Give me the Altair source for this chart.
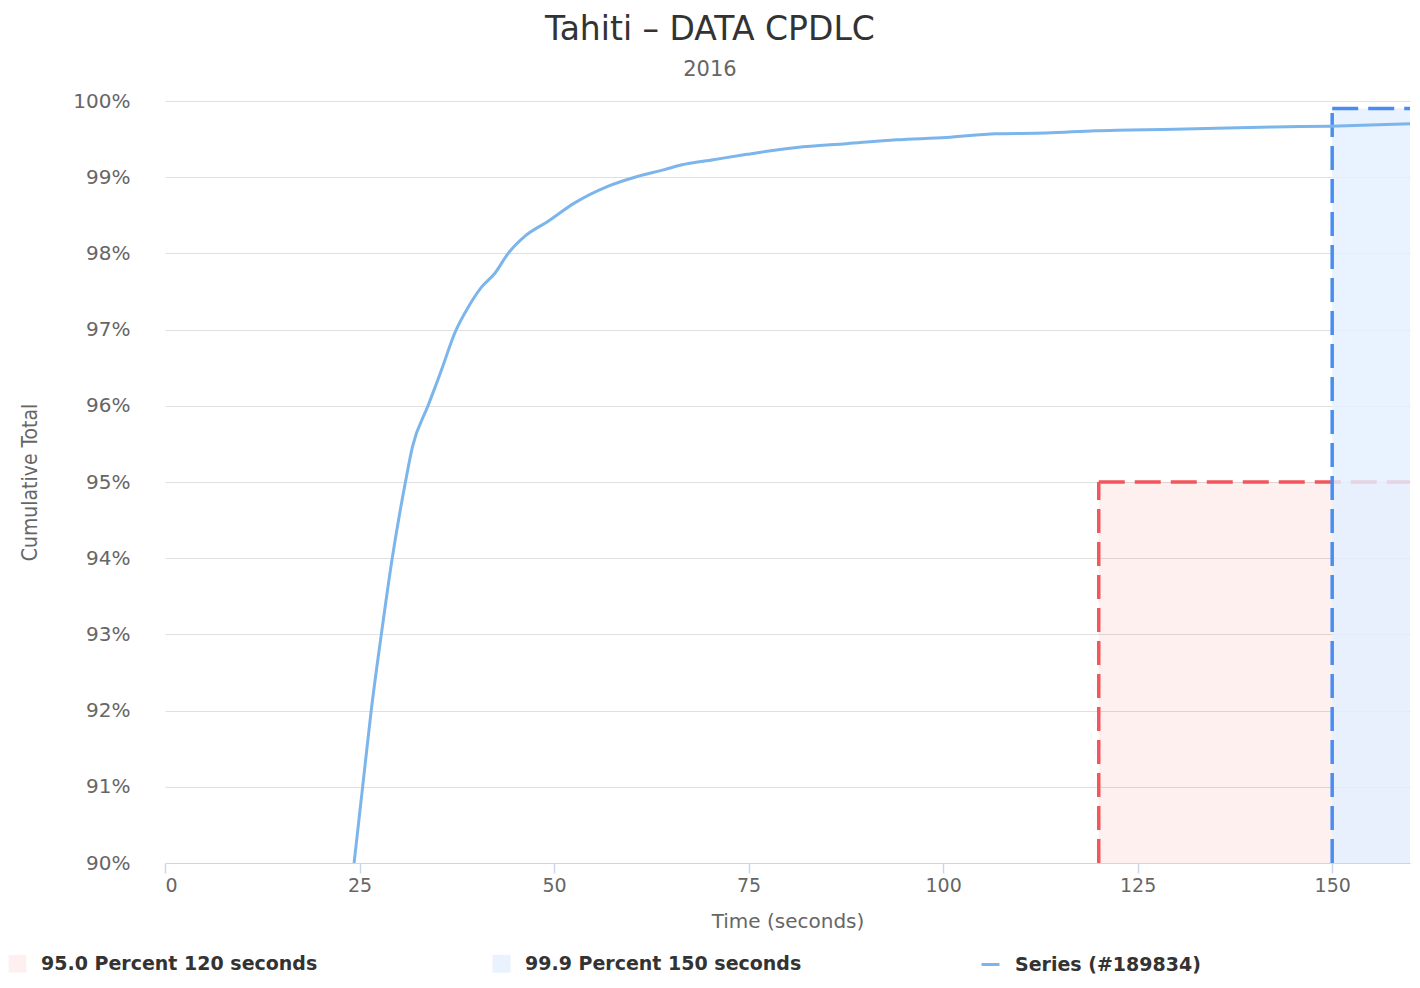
import altair as alt
import pandas as pd

# --- data ---
time_s = [24.3, 25.4, 26.5, 27.8, 29.2, 30.9, 31.8, 33.8, 35.1, 35.6, 37.3, 39.0, 40.7, 42.4,
          44.1, 46.3, 49.2, 52.6, 56.9, 60.7, 64.2, 66.3, 70.5, 74.8, 81.2, 87.6, 94.0,
          100.4, 106.8, 113.2, 119.6, 129.8, 142.6, 149.8, 160.0]
cum_pct = [90.0, 91.0, 92.0, 93.0, 94.0, 95.0, 95.46, 96.0, 96.35, 96.49, 96.97, 97.30, 97.56, 97.74,
           98.0, 98.23, 98.42, 98.66, 98.88, 99.01, 99.10, 99.16, 99.23, 99.30, 99.39, 99.44, 99.49,
           99.52, 99.57, 99.58, 99.61, 99.63, 99.66, 99.67, 99.70]
series_name = "Series (#189834)"

thr_labels = ["95.0 Percent 120 seconds", "99.9 Percent 150 seconds"]
thr_pct = [95.0, 99.9]
thr_sec = [120, 150]

x_ticks = [0, 25, 50, 75, 100, 125, 150]
y_ticks = [90, 91, 92, 93, 94, 95, 96, 97, 98, 99, 100]
x_min, x_max = 0, 160
y_min, y_max = 90, 100

fill_range = ["rgba(255,0,0,0.06)", "rgba(228,239,255,0.82)"]
line_color = "#7cb5ec"
rule_colors = ["#f2555b", "#4a8df2"]

FONT = "DejaVu Sans"

series_df = pd.DataFrame({"time": time_s, "cum": cum_pct, "name": series_name})
thr_df = pd.DataFrame({"label": thr_labels, "pct": thr_pct, "sec": thr_sec,
                       "xend": [x_max] * len(thr_sec), "ybase": [y_min] * len(thr_sec)})

xscale = alt.Scale(domain=[x_min, x_max], nice=False, zero=False)
yscale = alt.Scale(domain=[y_min, y_max], nice=False, zero=False)

fill_scale = alt.Scale(domain=thr_labels, range=fill_range)
stroke_scale = alt.Scale(domain=[series_name], range=[line_color])

legend_common = dict(
    title=None, orient="none", direction="horizontal",
    symbolSize=320, labelFontSize=19, labelFont=FONT, labelFontWeight="bold",
    labelColor="#333333", labelOffset=14, labelLimit=500,
)
fill_legend = alt.Legend(legendX=-157, legendY=853, columns=2, gridAlign="all",
                         columnPadding=174, symbolType="square", symbolStrokeWidth=0,
                         **legend_common)
stroke_legend = alt.Legend(legendX=815, legendY=853, symbolType="stroke",
                           symbolStrokeWidth=3, **legend_common)

xaxis = alt.Axis(values=x_ticks, title="Time (seconds)", grid=False,
                 domainColor="#ccd6eb", tickColor="#ccd6eb", tickSize=10, tickWidth=1.5,
                 labelFontSize=19, labelColor="#666666", labelFont=FONT, labelPadding=3,
                 titleFontSize=20, titleColor="#666666", titleFont=FONT,
                 titleFontWeight="normal", titlePadding=16)
yaxis = alt.Axis(values=y_ticks, labelExpr="datum.value + '%'", title="Cumulative Total",
                 domain=False, ticks=False, tickSize=0, grid=True, gridColor="#e0e0e0",
                 labelFontSize=20, labelColor="#666666", labelFont=FONT, labelPadding=35,
                 minExtent=103, maxExtent=103,
                 titleFontSize=21, titleColor="#666666",
                 titleFont="'Liberation Sans Narrow', 'DejaVu Sans Condensed', sans-serif",
                 titleFontWeight="normal", titlePadding=22)

base_thr = alt.Chart(thr_df)

def rect_layer(lbl):
    return base_thr.transform_filter(alt.datum.label == lbl).mark_rect().encode(
        x=alt.X("sec:Q", scale=xscale, axis=xaxis),
        x2="xend:Q",
        y=alt.Y("ybase:Q", scale=yscale, axis=yaxis),
        y2="pct:Q",
        fill=alt.Fill("label:N", scale=fill_scale, legend=fill_legend),
    )

def rule_layers(lbl, col):
    b = base_thr.transform_filter(alt.datum.label == lbl)
    vert = b.mark_rule(color=col, strokeWidth=3.5, strokeDash=[24, 9]).encode(
        x=alt.X("sec:Q", scale=xscale), y=alt.Y("ybase:Q", scale=yscale), y2="pct:Q")
    horiz = b.mark_rule(color=col, strokeWidth=3.5, strokeDash=[26, 10]).encode(
        x=alt.X("sec:Q", scale=xscale), x2="xend:Q", y=alt.Y("pct:Q", scale=yscale))
    return vert + horiz

line = alt.Chart(series_df).mark_line(strokeWidth=3, interpolate="monotone", clip=True).encode(
    x=alt.X("time:Q", scale=xscale),
    y=alt.Y("cum:Q", scale=yscale),
    stroke=alt.Stroke("name:N", scale=stroke_scale, legend=stroke_legend),
)

chart = alt.layer(
    rect_layer(thr_labels[0]),
    rule_layers(thr_labels[0], rule_colors[0]),
    rect_layer(thr_labels[1]),
    rule_layers(thr_labels[1], rule_colors[1]),
    line,
).properties(
    width=1245, height=762,
    title=alt.TitleParams("Tahiti – DATA CPDLC", subtitle="2016", font=FONT, fontSize=33,
                          fontWeight="normal", color="#333333", subtitleFont=FONT,
                          subtitleFontSize=21, subtitleColor="#666666", anchor="middle",
                          frame="bounds", subtitlePadding=12, offset=11),
    padding={"left": 0, "top": 6, "right": 0, "bottom": 0},
    background="white",
).configure_view(stroke=None)

chart.save("out.html", embed_options={"renderer": "svg", "actions": False})
